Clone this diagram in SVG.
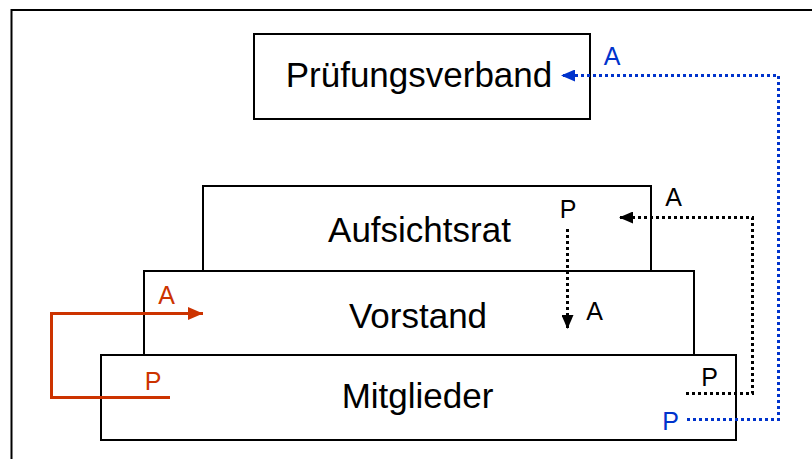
<svg xmlns="http://www.w3.org/2000/svg" width="812" height="459" viewBox="0 0 812 459">
  <style>
    .box { fill: #ffffff; stroke: #000000; stroke-width: 2; }
    .big { font-family: "Liberation Sans", Arial, sans-serif; font-size: 35px; fill: #000000; text-anchor: middle; }
    .lbl { font-family: "Liberation Sans", Arial, sans-serif; font-size: 25px; text-anchor: middle; }
    .dot { fill: none; stroke-width: 3; stroke-dasharray: 3 3; }
    .blk { stroke: #000000; }
    .blu { stroke: #0033CC; }
    .red { stroke: #CC3300; stroke-width: 3; fill: none; }
  </style>
  <defs>
    <marker id="arrBlack" viewBox="0 0 14 12" refX="14" refY="6" markerWidth="14" markerHeight="12" markerUnits="userSpaceOnUse" orient="auto">
      <path d="M0,0 L14,6 L0,12 z" fill="#000000"/>
    </marker>
    <marker id="arrBlue" viewBox="0 0 14 12" refX="14" refY="6" markerWidth="14" markerHeight="12" markerUnits="userSpaceOnUse" orient="auto">
      <path d="M0,0 L14,6 L0,12 z" fill="#0033CC"/>
    </marker>
    <marker id="arrRed" viewBox="0 0 15 13" refX="15" refY="6.5" markerWidth="15" markerHeight="13" markerUnits="userSpaceOnUse" orient="auto">
      <path d="M0,0 L15,6.5 L0,13 z" fill="#CC3300"/>
    </marker>
  </defs>
  <rect width="812" height="459" fill="#ffffff"/>
  <rect id="frame" x="11.5" y="10" width="830" height="470" fill="none" stroke="#000000" stroke-width="2"/>

  <g id="pruefungsverband">
    <rect class="box" x="254" y="34" width="336" height="85"/>
    <text class="big" x="419" y="87">Prüfungsverband</text>
  </g>
  <g id="aufsichtsrat">
    <rect class="box" x="203" y="186" width="448" height="85"/>
    <text class="big" x="419.5" y="242">Aufsichtsrat</text>
  </g>
  <g id="vorstand">
    <rect class="box" x="144" y="271" width="550" height="84"/>
    <text class="big" x="418" y="328">Vorstand</text>
  </g>
  <g id="mitglieder">
    <rect class="box" x="101" y="355" width="635" height="85"/>
    <text class="big" x="417.5" y="408">Mitglieder</text>
  </g>

  <g id="connectors">
    <path class="dot blu" d="M687,419.5 L778.5,419.5 L778.5,75.5 L561,75.5" marker-end="url(#arrBlue)"/>
    <path class="dot blk" d="M686,393.5 L752.5,393.5 L752.5,217.5 L619,217.5" marker-end="url(#arrBlack)"/>
    <path class="dot blk" d="M567.5,229 L567.5,329" marker-end="url(#arrBlack)"/>
    <path class="red" d="M170,397.5 L51.5,397.5 L51.5,313.5 L203,313.5" marker-end="url(#arrRed)"/>
  </g>

  <g id="labels">
    <text class="lbl" x="612" y="65" fill="#0033CC">A</text>
    <text class="lbl" x="670.5" y="430" fill="#0033CC">P</text>
    <text class="lbl" x="673.5" y="206" fill="#000000">A</text>
    <text class="lbl" x="709.5" y="386" fill="#000000">P</text>
    <text class="lbl" x="568" y="218" fill="#000000">P</text>
    <text class="lbl" x="594.5" y="320" fill="#000000">A</text>
    <text class="lbl" x="166.5" y="304" fill="#CC3300">A</text>
    <text class="lbl" x="153" y="390" fill="#CC3300">P</text>
  </g>
</svg>
